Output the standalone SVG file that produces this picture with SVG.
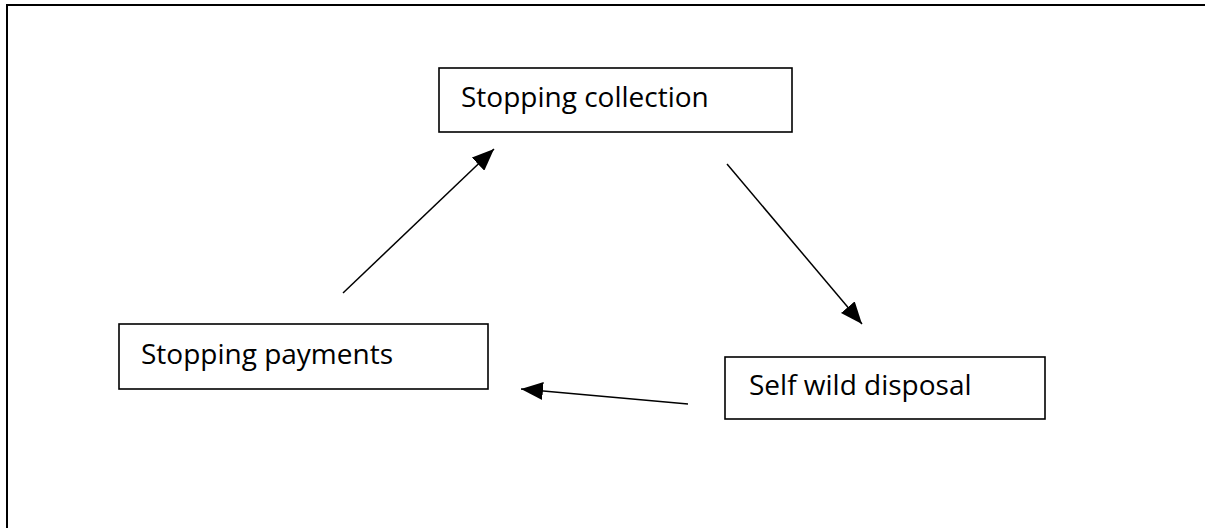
<svg xmlns="http://www.w3.org/2000/svg" width="1205" height="528" viewBox="0 0 1205 528">
<style>
.box{fill:#fff;stroke:#000;stroke-width:1.6}
.lbl{font-family:"Open Sans","DejaVu Sans",sans-serif;font-size:28px;fill:#000}
.edge{stroke:#000;stroke-width:1.5;fill:none}
</style>
<defs>
<marker id="ah" markerUnits="userSpaceOnUse" markerWidth="22" markerHeight="18" refX="22" refY="9" orient="auto" viewBox="0 0 22 18">
<path d="M0,0 L22,9 L0,18 z" fill="#000"/>
</marker>
</defs>
<rect x="0" y="0" width="1205" height="528" fill="#fff"/>
<path d="M7,528 V5 H1205" fill="none" stroke="#000" stroke-width="2"/>
<g id="n-collection">
<rect class="box" x="439" y="68" width="353" height="64"/>
<text class="lbl" x="461" y="107">Stopping collection</text>
</g>
<g id="n-payments">
<rect class="box" x="119" y="324" width="369" height="65"/>
<text class="lbl" x="141" y="364">Stopping payments</text>
</g>
<g id="n-disposal">
<rect class="box" x="725" y="357" width="320" height="62"/>
<text class="lbl" x="749" y="395">Self wild disposal</text>
</g>
<g id="connectors">
<line class="edge" x1="343" y1="293" x2="494" y2="149" marker-end="url(#ah)"/>
<line class="edge" x1="727" y1="164" x2="862" y2="324" marker-end="url(#ah)"/>
<line class="edge" x1="688" y1="404" x2="521" y2="389" marker-end="url(#ah)"/>
</g>
</svg>
